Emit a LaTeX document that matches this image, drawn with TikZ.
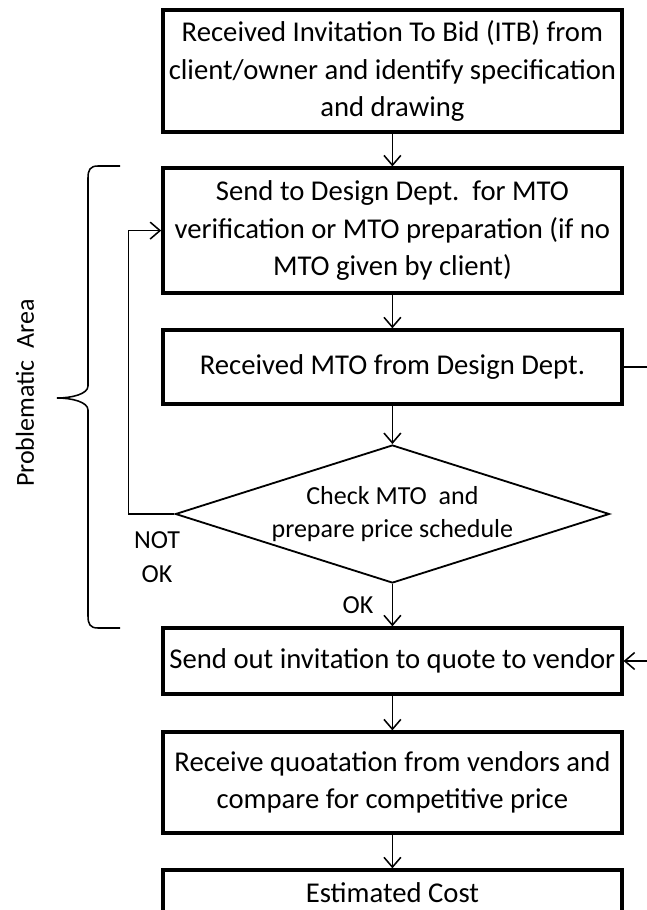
\documentclass[tikz,border=0pt]{standalone}
\usepackage{fontspec}
\setmainfont{Carlito}
\usepackage{tikz}
\usetikzlibrary{arrows.meta, positioning, shapes.geometric, calc}

\tikzset{
  stepbox/.style={rectangle, draw, line width=2.4pt, minimum width=11.475cm,
    inner sep=2pt, align=center, font=\fontsize{20.4}{26.6}\selectfont},
  decision/.style={diamond, draw, line width=1.3pt, minimum width=10.85cm,
    minimum height=3.45cm, inner sep=0pt, aspect=3.1, align=center,
    font=\fontsize{18.5}{23.5}\selectfont},
  flow/.style={->, line width=1.1pt},
  tag/.style={font=\fontsize{18.5}{24}\selectfont, align=center},
}

\begin{document}
\begin{tikzpicture}[>={Straight Barb[length=7pt,width=12pt]}, node distance=3cm, on grid]

  \useasboundingbox (0,0) rectangle (16.175,-22.75);

  % main column of steps
  \node (itb) [stepbox, minimum height=3.05cm] at (9.81,-1.775)
    {Received Invitation To Bid (ITB) from\\ client/owner and identify specification\\ and drawing};
  \node (design) [stepbox, minimum height=3.125cm, below=3.99cm of itb]
    {Send to Design Dept.\ \ for MTO\\ verification or MTO preparation (if no\\ MTO given by client)};
  \node (mto) [stepbox, minimum height=1.85cm, below=3.41cm of design]
    {Received MTO from Design Dept.};
  \node (check) [decision, below=3.675cm of mto]
    {Check MTO\ \ and\\ prepare price schedule};
  \node (invite) [stepbox, minimum height=1.65cm, below=3.675cm of check]
    {Send out invitation to quote to vendor};
  \node (quote) [stepbox, minimum height=2.525cm, below=3.04cm of invite]
    {Receive quoatation from vendors and\\ compare for competitive price};
  \node (cost) [stepbox, minimum height=1.15cm, below=2.76cm of quote]
    {Estimated Cost};

  % labels
  \node (notok) [tag] at (3.925,-13.925) {NOT\\ OK};
  \node (ok) [tag] at (8.95,-15.125) {OK};
  \node (area) [tag, rotate=90] at (0.625,-9.825) {Problematic\ \ Area};

  % connectors
  \draw[flow] (itb) -- (design);
  \draw[flow] (design) -- (mto);
  \draw[flow] (mto) -- (check);
  \draw[flow] (check) -- (invite);
  \draw[flow] (invite) -- (quote);
  \draw[flow] (quote) -- (cost);
  \draw[flow] (check.west) -- ++(-1.15cm,0) |- (design.west);
  \draw[flow] (mto.east) -- ++(1.2cm,0) |- (invite.east);

  % brace round the problem area
  \draw[line width=1.1pt] (3.0,-4.15) -- (2.45,-4.15)
    .. controls (2.25,-4.15) and (2.2,-4.25) .. (2.2,-4.45)
    -- (2.2,-9.65)
    .. controls (2.2,-9.85) and (1.8,-9.95) .. (1.425,-9.95)
    .. controls (1.8,-9.95) and (2.2,-10.05) .. (2.2,-10.25)
    -- (2.2,-15.4)
    .. controls (2.2,-15.6) and (2.25,-15.7) .. (2.45,-15.7) -- (3.0,-15.7);

\end{tikzpicture}
\end{document}
